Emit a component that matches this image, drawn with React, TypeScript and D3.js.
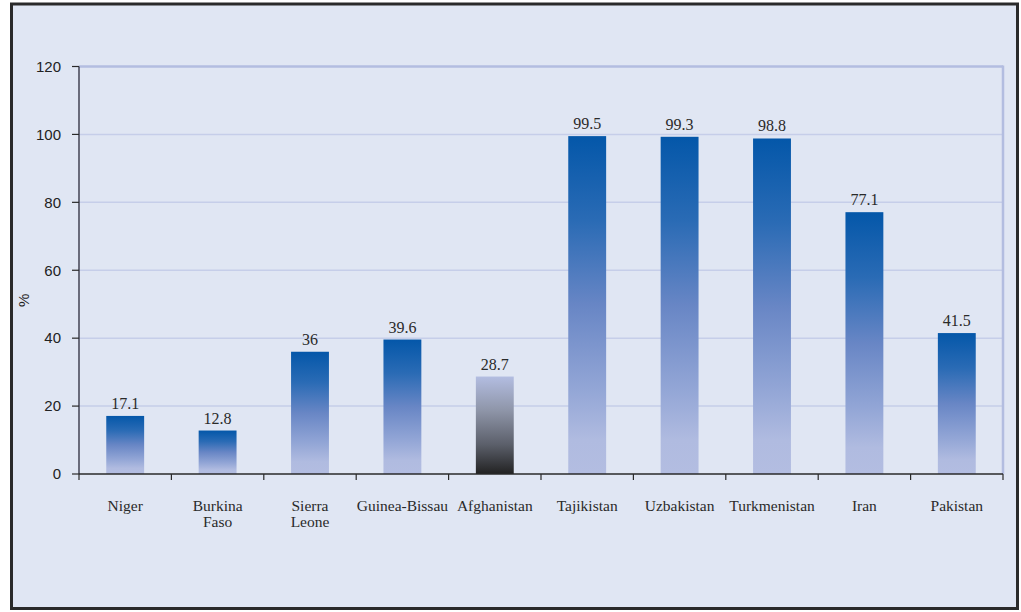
import React from "react";
import * as d3 from "d3";

const categories: string[][] = [
  ["Niger"],
  ["Burkina", "Faso"],
  ["Sierra", "Leone"],
  ["Guinea-Bissau"],
  ["Afghanistan"],
  ["Tajikistan"],
  ["Uzbakistan"],
  ["Turkmenistan"],
  ["Iran"],
  ["Pakistan"],
];
const values: number[] = [17.1, 12.8, 36, 39.6, 28.7, 99.5, 99.3, 98.8, 77.1, 41.5];
const valueLabels: string[] = ["17.1", "12.8", "36", "39.6", "28.7", "99.5", "99.3", "98.8", "77.1", "41.5"];
const highlight: boolean[] = [false, false, false, false, true, false, false, false, false, false];
const yTicks: number[] = [0, 20, 40, 60, 80, 100, 120];

const W = 1021;
const H = 612;
const left = 79;
const right = 1003;
const top = 66.5;
const bottom = 474;

export default function App() {
  const x = d3
    .scaleBand<number>()
    .domain(values.map((_, i) => i))
    .range([left, right])
    .paddingInner(0.59)
    .paddingOuter(0.295);
  const y = d3.scaleLinear().domain([0, 120]).range([bottom, top]);
  const step = (right - left) / values.length;
  const boundaries = d3.range(values.length + 1).map((i) => left + i * step);

  return (
    <svg
      width={W}
      height={H}
      style={{ position: "absolute", left: 0, top: 0 }}
    >
      <defs>
        <linearGradient id="gBlue" x1="0" y1="0" x2="0" y2="1">
          <stop offset="0%" stopColor="#0457a9" />
          <stop offset="25%" stopColor="#2a6bb5" />
          <stop offset="50%" stopColor="#6886c5" />
          <stop offset="75%" stopColor="#93a6d6" />
          <stop offset="90%" stopColor="#b0bbe0" />
          <stop offset="100%" stopColor="#b3bde1" />
        </linearGradient>
        <linearGradient id="gDark" x1="0" y1="0" x2="0" y2="1">
          <stop offset="0%" stopColor="#b3bde1" />
          <stop offset="35%" stopColor="#8e95a8" />
          <stop offset="70%" stopColor="#5b5f6a" />
          <stop offset="100%" stopColor="#222222" />
        </linearGradient>
      </defs>
      <rect x={0} y={0} width={W} height={H} fill="#ffffff" />
      <rect
        x={11.5}
        y={4}
        width={1006}
        height={604.5}
        fill="#e0e6f3"
        stroke="#2a2a2a"
        strokeWidth={3}
      />
      {/* grid lines */}
      {yTicks.filter((t) => t > 0).map((t) => (
        <line
          key={"g" + t}
          x1={left}
          x2={right}
          y1={y(t)}
          y2={y(t)}
          stroke={t === 120 ? "#b3bde0" : "#c6cee9"}
          strokeWidth={t === 120 ? 2.5 : 1.5}
        />
      ))}
      {/* right frame of plot area */}
      <line x1={right} x2={right} y1={top - 1} y2={bottom} stroke="#b3bde0" strokeWidth={2.5} />
      {/* bars */}
      {values.map((v, i) => (
        <rect
          key={"b" + i}
          x={x(i)}
          y={y(v)}
          width={x.bandwidth()}
          height={bottom - y(v)}
          fill={highlight[i] ? "url(#gDark)" : "url(#gBlue)"}
        />
      ))}
      {/* value labels */}
      {values.map((v, i) => (
        <text
          key={"v" + i}
          x={(x(i) as number) + x.bandwidth() / 2}
          y={y(v) - 7}
          textAnchor="middle"
          fontFamily="'Liberation Serif', 'Times New Roman', serif"
          fontSize={16}
          fill="#2a2a2a"
        >
          {valueLabels[i]}
        </text>
      ))}
      {/* y axis */}
      <line x1={left} x2={left} y1={top} y2={bottom} stroke="#2a2a3a" strokeWidth={1.3} />
      {yTicks.map((t) => (
        <g key={"yt" + t}>
          <line x1={left - 7} x2={left} y1={y(t)} y2={y(t)} stroke="#2a2a2a" strokeWidth={1.2} />
          <text
            x={61}
            y={y(t)}
            dy="0.35em"
            textAnchor="end"
            fontFamily="'Liberation Sans', Arial, sans-serif"
            fontSize={15}
            fill="#222"
          >
            {t}
          </text>
        </g>
      ))}
      <text
        transform={`translate(29,${(top + bottom) / 2 + 30}) rotate(-90)`}
        textAnchor="middle"
        fontFamily="'Liberation Sans', Arial, sans-serif"
        fontSize={15}
        fill="#222"
      >
        %
      </text>
      {/* x axis */}
      <line x1={left} x2={right} y1={bottom} y2={bottom} stroke="#2a2a2a" strokeWidth={1.3} />
      {boundaries.map((b, i) => (
        <line key={"xt" + i} x1={b} x2={b} y1={bottom} y2={bottom + 6} stroke="#2a2a2a" strokeWidth={1.2} />
      ))}
      {categories.map((lines, i) => (
        <text
          key={"c" + i}
          x={(x(i) as number) + x.bandwidth() / 2}
          y={511}
          textAnchor="middle"
          fontFamily="'Liberation Serif', 'Times New Roman', serif"
          fontSize={15.5}
          fill="#2a2a2a"
        >
          {lines.map((l, j) => (
            <tspan key={j} x={(x(i) as number) + x.bandwidth() / 2} dy={j === 0 ? 0 : 16}>
              {l}
            </tspan>
          ))}
        </text>
      ))}
    </svg>
  );
}
